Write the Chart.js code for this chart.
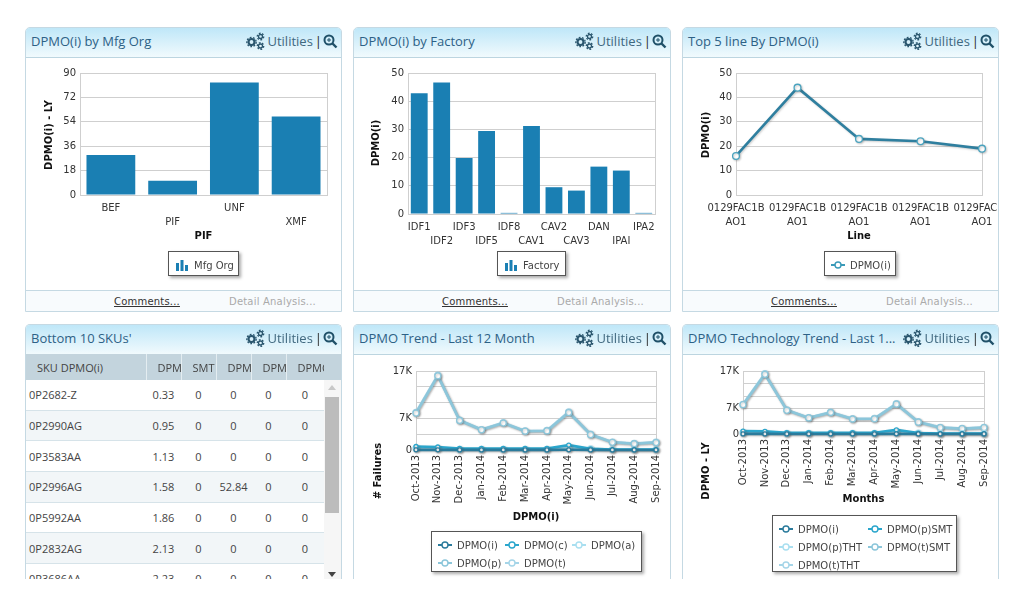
<!DOCTYPE html>
<html>
<head>
<meta charset="utf-8">
<script src="https://cdn.jsdelivr.net/npm/chart.js@4/dist/chart.umd.js"></script>
<style>
html,body{margin:0;padding:0;background:#fff;width:1024px;height:600px;overflow:hidden}
.panel{position:absolute;box-sizing:border-box;border:1px solid #c5d9e3;border-radius:5px 5px 0 0;background:#fff;overflow:hidden}
.open{border-bottom:0}
.head{position:absolute;left:0;right:0;top:0;height:29px;border-bottom:1px solid #bcd5e0;background:linear-gradient(#bfe7f8,#f1fafd);
  font:13px/27px "Open Sans";color:#2d6186;padding-left:5px;white-space:nowrap}
.util{position:absolute;right:3px;top:3px;height:20px;display:flex;align-items:center;color:#40687f;font:13px "Open Sans"}
.foot{position:absolute;left:0;right:0;height:21px;border-top:1px solid #c5d9e3;background:#f8fbfd;font:10px/21px "DejaVu Sans";letter-spacing:.2px}
.foot span{position:absolute;white-space:nowrap}
.foot .c{color:#333;text-decoration:underline;left:88px}
.foot .d{color:#aaa;left:203px}
canvas{position:absolute}
.legend{position:absolute;box-sizing:border-box;border:1px solid #555;background:#fff;box-shadow:2px 2px 3px #aaa;padding-top:4px;display:flex;flex-wrap:wrap;align-content:flex-start;
  font:10px "DejaVu Sans";color:#444}
.legend div{height:18px;display:flex;align-items:center;white-space:nowrap}
.legend svg{margin:0 2px 0 3px;flex:none}
table{position:absolute;left:0;top:29px;border-collapse:collapse;table-layout:fixed;font:11px "Open Sans";color:#444}
th{height:26px;padding:0 0 0 11px;background:#c3d4dd;font-weight:normal;border-right:1px solid #e4edf1;overflow:hidden;white-space:nowrap;text-align:left}
td{height:29.7px;padding:0;border-bottom:1px solid #d6e3e9;text-align:center}
td:first-child{text-align:left;padding-left:3px}
tr:nth-child(odd) td{background:#f2f6f8}
.sb{position:absolute;background:#f6f6f6;right:0;width:17px;top:55px;bottom:0}
.sb i{position:absolute;left:1px;width:14px;top:17px;height:116px;background:#bcbcbc}
.sb b{position:absolute;left:4px;width:0;height:0;border-left:4px solid transparent;border-right:4px solid transparent}
</style>
</head>
<body>
<script>
// ===========================
// DATA
// ===========================
const orgLabels = ['BEF', 'PIF', 'UNF', 'XMF'];
const orgValues = [29.5, 10.5, 83, 58];
const orgTicks = [0, 18, 36, 54, 72, 90];

const factoryLabels = ['IDF1', 'IDF2', 'IDF3', 'IDF5', 'IDF8', 'CAV1', 'CAV2', 'CAV3', 'DAN', 'IPAI', 'IPA2'];
const factoryValues = [42.8, 46.6, 19.9, 29.4, 0.4, 31.2, 9.5, 8.3, 16.8, 15.4, 0.4];

const lineLabels = [['0129FAC1B', 'AO1'], ['0129FAC1B', 'AO1'], ['0129FAC1B', 'AO1'], ['0129FAC1B', 'AO1'], ['0129FAC1B', 'AO1']];
const lineValues = [16, 44, 23, 22, 19];

const months = ['Oct-2013', 'Nov-2013', 'Dec-2013', 'Jan-2014', 'Feb-2014', 'Mar-2014', 'Apr-2014', 'May-2014', 'Jun-2014', 'Jul-2014', 'Aug-2014', 'Sep-2014'];
const trendTicks = [0, 3400, 6800, 10200, 13600, 17000];
const trendTickLabels = ['0', '', '7K', '', '', '17K'];

const trendI = [30, 30, 20, 20, 20, 20, 20, 40, 20, 10, 10, 10];
const trendC = [750, 650, 320, 320, 320, 320, 320, 1050, 250, 90, 90, 90];
const trendA = [350, 300, 130, 130, 130, 130, 130, 350, 260, 90, 90, 90];
const trendP = [7950, 15950, 6350, 4350, 5800, 4050, 4100, 8050, 3300, 1650, 1350, 1600];
const trendT = [8070, 16100, 6400, 4400, 5900, 4100, 4200, 8200, 3400, 1700, 1400, 1700];

const techI = [30, 30, 20, 20, 20, 20, 20, 40, 20, 10, 10, 10];
const techPSmt = [800, 700, 340, 340, 340, 340, 340, 1100, 260, 90, 90, 90];
const techTSmt = [350, 310, 130, 130, 130, 130, 130, 360, 250, 90, 90, 90];
const techPTht = [7900, 16100, 6400, 4350, 5800, 4050, 4100, 8050, 3200, 1700, 1450, 1700];
const techTTht = [8000, 16300, 6500, 4400, 5900, 4100, 4200, 8200, 3300, 1800, 1500, 1800];

const skuHeaders = ['SKU DPMO(i)', 'DPMO', 'SMT', 'DPMO', 'DPMO', 'DPMO'];
const skuNames = ['0P2682-Z', '0P2990AG', '0P3583AA', '0P2996AG', '0P5992AA', '0P2832AG', '0P3686AA'];
const skuDpmo = ['0.33', '0.95', '1.13', '1.58', '1.86', '2.13', '2.23'];
const skuSmt = ['0', '0', '0', '0', '0', '0', '0'];
const skuCol3 = ['0', '0', '0', '52.84', '0', '0', '0'];
const skuCol4 = ['0', '0', '0', '0', '0', '0', '0'];
const skuCol5 = ['0', '0', '0', '0', '0', '0', '0'];

const BAR = '#1a7fb3';
const C_I = '#2b7b9c', C_C = '#2ba6cc', C_A = '#a9dff0', C_P = '#8cc6da', C_T = '#a5d5e8';

// ===========================
// PANEL HELPERS
// ===========================
function gear(cx, cy, r, hole) {
  return '<circle cx="' + cx + '" cy="' + cy + '" r="' + r + '" fill="none" stroke="#2a566e" stroke-width="' + hole + '"/>' +
    '<circle cx="' + cx + '" cy="' + cy + '" r="' + (r + hole / 2 + .6) + '" fill="none" stroke="#2a566e" stroke-width="1.3" stroke-dasharray="1.8 1.5"/>';
}
function utilHtml() {
  return '<div class="util"><svg width="20" height="18">' + gear(6.5, 10, 3, 2.2) + gear(15.5, 4.5, 2, 1.3) + gear(15.5, 14, 2, 1.3) + '</svg>' +
    '<span style="margin-left:2px">Utilities</span><span style="margin:0 1px 0 2px;color:#222">|</span>' +
    '<svg width="15" height="15"><circle cx="6" cy="6" r="4.5" fill="none" stroke="#1f5068" stroke-width="2"/><path d="M9.5 9.5L13.5 13.5" stroke="#1f5068" stroke-width="2.4"/><path d="M4 6h4M6 4v4" stroke="#1f5068"/></svg></div>';
}
function addPanel(x, y, w, h, title, hasFoot) {
  const p = document.createElement('div');
  p.className = hasFoot ? 'panel' : 'panel open';
  p.style.cssText = 'left:' + x + 'px;top:' + y + 'px;width:' + w + 'px;height:' + h + 'px';
  p.innerHTML = '<div class="head">' + title + utilHtml() + '</div>';
  if (hasFoot) {
    p.innerHTML += '<div class="foot" style="top:' + (h - 23) + 'px"><span class="c">Comments...</span><span class="d">Detail Analysis...</span></div>';
  }
  document.body.appendChild(p);
  return p;
}
function lineIcon(color) {
  return '<svg width="20" height="12"><path d="M3 6H17" stroke="' + color + '" stroke-width="2"/><circle cx="10" cy="6" r="3" fill="#fff" stroke="' + color + '" stroke-width="1.4"/></svg>';
}
function barIcon() {
  return '<svg width="20" height="14"><path d="M4 5h3v8H4zM8.500 2h3v11h-3zM13 7h3v6h-3z" fill="' + BAR + '"/></svg>';
}
function addLegend(x, y, w, h, colW, items) {
  const l = document.createElement('div');
  l.className = 'legend';
  l.style.cssText = 'left:' + x + 'px;top:' + y + 'px;width:' + w + 'px;height:' + h + 'px';
  l.innerHTML = items.map(it => '<div style="width:' + colW + 'px">' + it[1] + '<span>' + it[0] + '</span></div>').join('');
  document.body.appendChild(l);
}

// frame round the plot, soft shadow under lines, and the y title (sits below centre on some panels)
const plotDecor = {
  id: 'plotDecor',
  beforeDatasetsDraw(chart) {
    const a = chart.chartArea, c = chart.ctx;
    c.save();
    c.strokeStyle = '#cfcfcf';
    c.lineWidth = 1;
    c.strokeRect(Math.round(a.left) + .5, Math.round(a.top) + .5, Math.round(a.width), Math.round(a.height));
    c.restore();
  },
  beforeDatasetDraw(chart) {
    if (chart.config.type !== 'line') return;
    const c = chart.ctx;
    c.save();
    c.shadowColor = 'rgba(90,90,90,.3)';
    c.shadowBlur = 2;
    c.shadowOffsetX = 1;
    c.shadowOffsetY = 1;
  },
  afterDatasetDraw(chart) {
    if (chart.config.type === 'line') chart.ctx.restore();
  },
  afterDraw(chart) {
    const o = chart.options.plugins.plotDecor, c = chart.ctx;
    c.save();
    c.translate(o.yTitleX, o.yTitleY);
    c.rotate(-Math.PI / 2);
    c.font = 'bold 10px "DejaVu Sans"';
    c.fillStyle = '#111';
    c.textAlign = 'center';
    c.textBaseline = 'middle';
    c.fillText(o.yTitle, 0, 0);
    c.restore();
  }
};

function stagger(labels) {
  return function(val, i) { return i % 2 ? ['', labels[i]] : [labels[i], '']; };
}

// box = plot rect in page px, xTitleY = page y of x title centre
function addChart(panel, px, py, cw, ch, box, spec) {
  const cv = document.createElement('canvas');
  cv.width = cw; cv.height = ch;
  cv.style.cssText = 'left:0;top:29px;width:' + cw + 'px;height:' + ch + 'px';
  panel.appendChild(cv);
  const top0 = py + 1 + 29, left0 = px + 1;
  const yW = box.l - left0;
  const xH = (box.xTitleY ? box.xTitleY + 6 : box.b + 36) - box.b;
  new Chart(cv, {
    type: spec.type,
    data: { labels: spec.labels, datasets: spec.datasets },
    plugins: [plotDecor],
    options: {
      responsive: false,
      animation: false,
      events: [],
      layout: { padding: { left: 0, top: box.t - top0, right: left0 + cw - box.r, bottom: top0 + ch - box.b - xH } },
      plugins: {
        legend: { display: false },
        tooltip: { enabled: false },
        plotDecor: { yTitle: spec.yTitle, yTitleX: box.yTitleX - left0, yTitleY: box.yTitleY - top0 }
      },
      scales: {
        x: {
          offset: spec.type === 'bar',
          grid: { display: false, drawTicks: false },
          border: { display: false },
          title: { display: !!spec.xTitle, text: spec.xTitle, color: '#111', padding: 0, font: { family: 'DejaVu Sans', size: 10, weight: 'bold' } },
          ticks: Object.assign({ color: '#333', autoSkip: false, maxRotation: 0, minRotation: 0, padding: 6, font: { family: 'DejaVu Sans', size: 10, lineHeight: 1.4 } }, spec.xTicks || {}),
          afterFit(s) { s.height = xH; s.paddingLeft = 0; s.paddingRight = 0; }
        },
        y: {
          min: 0,
          max: spec.yTicks[spec.yTicks.length - 1],
          grid: { color: '#cfcfcf', drawTicks: false },
          border: { display: false },
          afterBuildTicks(s) { s.ticks = spec.yTicks.map(v => ({ value: v })); },
          afterFit(s) { s.width = yW; s.paddingTop = 0; s.paddingBottom = 0; },
          ticks: { color: '#333', autoSkip: false, padding: 4, font: { family: 'DejaVu Sans', size: 10 }, callback: spec.yFormat || (v => v) }
        }
      }
    }
  });
}
function barSet(values, pct) {
  return [{ data: values, backgroundColor: BAR, barPercentage: pct, categoryPercentage: 1 }];
}
function lineSet(values, color, width, r, ptColor) {
  return { data: values, borderColor: color, borderWidth: width, tension: 0, clip: false,
    pointRadius: r, pointBackgroundColor: '#fff', pointBorderColor: ptColor || color, pointBorderWidth: 1.3 };
}
const rotated = { maxRotation: 90, minRotation: 90, padding: 5, font: { family: 'DejaVu Sans', size: 10, lineHeight: 1.2 } };
function trendFormat(v) { return trendTickLabels[trendTicks.indexOf(v)]; }

// ===========================
// TOP ROW
// ===========================
const p1 = addPanel(25, 27, 317, 285, 'DPMO(i) by Mfg Org', true);
addChart(p1, 25, 27, 315, 233,
  { l: 80, r: 327, t: 73, b: 195, xTitleY: 236, yTitleX: 49, yTitleY: 135 },
  { type: 'bar', labels: orgLabels, datasets: barSet(orgValues, 0.79), yTicks: orgTicks, yTitle: 'DPMO(i) - LY', xTitle: 'PIF', xTicks: { callback: stagger(orgLabels) } });
addLegend(168, 251, 71, 25, 71, [['Mfg Org', barIcon()]]);

const p2 = addPanel(353, 27, 318, 285, 'DPMO(i) by Factory', true);
addChart(p2, 353, 27, 316, 233,
  { l: 408, r: 655, t: 73, b: 214, yTitleX: 376, yTitleY: 143 },
  { type: 'bar', labels: factoryLabels, datasets: barSet(factoryValues, 0.75), yTicks: [0, 10, 20, 30, 40, 50], yTitle: 'DPMO(i)', xTicks: { callback: stagger(factoryLabels) } });
addLegend(497, 251, 69, 25, 69, [['Factory', barIcon()]]);

const p3 = addPanel(682, 27, 317, 285, 'Top 5 line By DPMO(i)', true);
addChart(p3, 682, 27, 315, 233,
  { l: 736, r: 982, t: 73, b: 195, xTitleY: 236, yTitleX: 706, yTitleY: 135 },
  { type: 'line', labels: lineLabels, datasets: [lineSet(lineValues, '#2f7f9f', 2.6, 3.4, '#4aa3bf')], yTicks: [0, 10, 20, 30, 40, 50], yTitle: 'DPMO(i)', xTitle: 'Line' });
addLegend(824, 251, 72, 25, 72, [['DPMO(i)', lineIcon('#3a9ab8')]]);

// ===========================
// BOTTOM ROW
// ===========================
const p4 = addPanel(25, 324, 317, 255, "Bottom 10 SKUs'", false);
const colW = [120, 35, 35, 35, 35, 38];
let t = '<table style="width:' + colW.reduce((a, b) => a + b, 0) + 'px"><colgroup>' + colW.map(w => '<col style="width:' + w + 'px">').join('') + '</colgroup>';
t += '<tr>' + skuHeaders.map(h => '<th>' + h + '</th>').join('') + '</tr>';
skuNames.forEach((n, i) => {
  t += '<tr><td>' + n + '</td><td>' + skuDpmo[i] + '</td><td>' + skuSmt[i] + '</td><td>' + skuCol3[i] + '</td><td>' + skuCol4[i] + '</td><td>' + skuCol5[i] + '</td></tr>';
});
p4.innerHTML += t + '</table><div style="position:absolute;left:298px;right:0;top:29px;height:26px;background:#c3d4dd"></div>' +
  '<div class="sb"><b style="top:5px;border-bottom:5px solid #c8c8c8"></b><i></i><b style="bottom:2px;border-top:5px solid #444"></b></div>';

const p5 = addPanel(353, 324, 318, 255, 'DPMO Trend - Last 12 Month', false);
addChart(p5, 353, 324, 316, 224,
  { l: 416, r: 656, t: 371, b: 450, xTitleY: 517, yTitleX: 378, yTitleY: 471 },
  { type: 'line', labels: months, yTicks: trendTicks, yFormat: trendFormat, yTitle: '# Failures', xTitle: 'DPMO(i)', xTicks: rotated,
    datasets: [lineSet(trendI, C_I, 2.6, 2), lineSet(trendC, C_C, 2.6, 2), lineSet(trendP, C_P, 2.6, 3), lineSet(trendA, C_A, 2.6, 3), lineSet(trendT, C_T, 2.6, 3)] });
addLegend(431, 531, 211, 41, 67, [['DPMO(i)', lineIcon(C_I)], ['DPMO(c)', lineIcon(C_C)], ['DPMO(a)', lineIcon(C_A)], ['DPMO(p)', lineIcon(C_P)], ['DPMO(t)', lineIcon(C_T)]]);

const p6 = addPanel(682, 324, 317, 255, 'DPMO Technology Trend - Last 1...', false);
addChart(p6, 682, 324, 315, 224,
  { l: 743, r: 984, t: 371, b: 434, xTitleY: 499, yTitleX: 706, yTitleY: 471 },
  { type: 'line', labels: months, yTicks: trendTicks, yFormat: trendFormat, yTitle: 'DPMO - LY', xTitle: 'Months', xTicks: rotated,
    datasets: [lineSet(techI, C_I, 2.6, 2), lineSet(techPSmt, C_C, 2.6, 2), lineSet(techTSmt, C_A, 2.6, 3), lineSet(techPTht, C_P, 2.6, 3), lineSet(techTTht, C_T, 2.6, 3)] });
addLegend(772, 515, 185, 57, 89, [['DPMO(i)', lineIcon(C_I)], ['DPMO(p)SMT', lineIcon(C_C)], ['DPMO(p)THT', lineIcon(C_A)], ['DPMO(t)SMT', lineIcon(C_P)], ['DPMO(t)THT', lineIcon(C_T)]]);
</script>
</body>
</html>
